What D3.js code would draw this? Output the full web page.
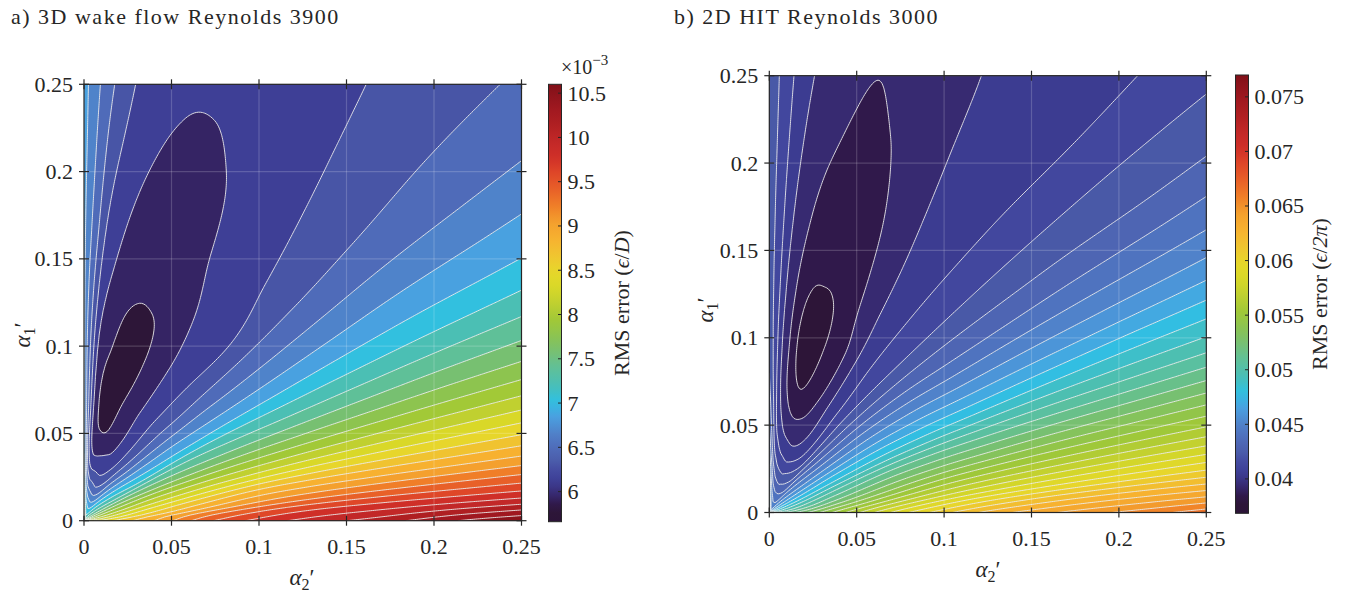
<!DOCTYPE html>
<meta charset="utf-8">
<style>
body { margin: 0; background: #fff; }
text { font-family: "Liberation Serif", "Times New Roman", serif; fill: #262626; }
</style>
<body>
<script src="https://d3js.org/d3.v7.min.js"></script>
<script>

// RMS error on a polar grid:
// rows = angle from the alpha2 axis (deg), columns = distance from origin
var radii = [0, 0.02, 0.04, 0.07, 0.1, 0.13, 0.17, 0.22, 0.28, 0.36];
var angles = [0, 3, 6, 10, 15, 20, 25, 30, 35, 40, 45, 50, 55, 60, 64, 68, 72, 76, 80, 83, 85.5, 87.5, 89, 90];

// a) 3D wake flow, values x1e-3
var rmsA = [
  [8.3, 8.65, 8.95, 9.45, 9.75, 9.95, 10.15, 10.45, 10.7, 11.0],
  [8.2, 8.55, 8.85, 9.25, 9.5, 9.65, 9.75, 9.83, 9.89, 9.95],
  [8.1, 8.4, 8.65, 8.95, 9.15, 9.25, 9.3, 9.32, 9.33, 9.35],
  [8.0, 8.25, 8.45, 8.65, 8.78, 8.8, 8.78, 8.75, 8.73, 8.72],
  [7.9, 8.05, 8.17, 8.25, 8.26, 8.24, 8.2, 8.16, 8.13, 8.1],
  [7.8, 7.88, 7.93, 7.9, 7.85, 7.8, 7.75, 7.71, 7.67, 7.64],
  [7.7, 7.7, 7.65, 7.57, 7.5, 7.44, 7.39, 7.35, 7.31, 7.28],
  [7.6, 7.5, 7.4, 7.3, 7.2, 7.13, 7.08, 7.04, 7.0, 6.97],
  [7.55, 7.3, 7.1, 6.98, 6.9, 6.85, 6.82, 6.8, 6.77, 6.75],
  [7.5, 7.15, 6.9, 6.75, 6.66, 6.62, 6.6, 6.59, 6.57, 6.55],
  [7.45, 7.0, 6.7, 6.53, 6.46, 6.42, 6.41, 6.42, 6.43, 6.42],
  [7.4, 6.85, 6.5, 6.34, 6.26, 6.22, 6.26, 6.29, 6.32, 6.33],
  [7.35, 6.7, 6.33, 6.2, 6.15, 6.13, 6.17, 6.205, 6.235, 6.255],
  [7.32, 6.55, 6.18, 6.08, 6.04, 6.05, 6.1, 6.135, 6.165, 6.2],
  [7.3, 6.47, 6.1, 6.0, 5.97, 5.98, 6.04, 6.085, 6.125, 6.17],
  [7.28, 6.42, 6.04, 5.93, 5.88, 5.9, 5.95, 6.03, 6.09, 6.15],
  [7.28, 6.4, 6.02, 5.84, 5.75, 5.86, 5.94, 6.0, 6.07, 6.13],
  [7.3, 6.45, 6.0, 5.7, 5.68, 5.85, 5.93, 6.005, 6.07, 6.12],
  [7.35, 6.5, 5.99, 5.75, 5.82, 5.9, 5.98, 6.06, 6.12, 6.18],
  [7.45, 6.55, 6.02, 5.85, 5.9, 5.98, 6.07, 6.16, 6.22, 6.27],
  [7.55, 6.68, 6.17, 6.05, 6.03, 6.1, 6.2, 6.3, 6.39, 6.43],
  [7.7, 6.85, 6.45, 6.35, 6.33, 6.37, 6.45, 6.51, 6.56, 6.58],
  [7.85, 7.05, 6.75, 6.62, 6.58, 6.6, 6.65, 6.69, 6.71, 6.72],
  [7.9, 7.2, 6.93, 6.85, 6.82, 6.81, 6.81, 6.83, 6.85, 6.86]
];

// b) 2D HIT, values x1e-3
var rmsB = [
  [50.0, 52.7, 55.3, 58.6, 61.0, 62.8, 64.3, 65.7, 67.3, 69.0],
  [49.5, 52.0, 54.4, 57.2, 59.2, 60.6, 61.8, 62.7, 63.35, 64.1],
  [49.0, 51.3, 53.4, 55.7, 57.3, 58.3, 59.1, 59.7, 60.15, 60.6],
  [48.6, 50.5, 52.2, 54.0, 55.2, 55.8, 56.2, 56.45, 56.6, 56.8],
  [48.2, 49.7, 51.0, 52.3, 52.9, 53.1, 53.2, 53.15, 53.1, 53.0],
  [47.8, 48.8, 49.8, 50.7, 50.9, 50.8, 50.6, 50.35, 50.14, 50.0],
  [47.4, 47.9, 48.4, 48.8, 48.75, 48.5, 48.25, 48.0, 47.75, 47.6],
  [47.0, 47.1, 47.3, 47.3, 47.0, 46.6, 46.25, 45.9, 45.6, 45.4],
  [46.6, 46.3, 46.1, 45.9, 45.5, 45.0, 44.6, 44.25, 43.95, 43.75],
  [46.3, 45.5, 45.0, 44.6, 44.1, 43.6, 43.2, 42.9, 42.6, 42.4],
  [46.0, 44.8, 43.9, 43.3, 42.8, 42.45, 42.15, 41.9, 41.7, 41.5],
  [45.8, 44.0, 42.7, 42.0, 41.6, 41.35, 41.15, 41.0, 40.85, 40.75],
  [45.6, 43.0, 41.4, 40.9, 40.8, 40.7, 40.62, 40.55, 40.45, 40.4],
  [45.5, 42.6, 40.6, 40.05, 39.9, 40.0, 40.05, 40.1, 40.15, 40.25],
  [45.5, 42.4, 40.2, 39.25, 39.0, 39.3, 39.6, 39.78, 39.88, 40.0],
  [45.6, 42.3, 39.95, 38.75, 38.6, 38.7, 38.95, 39.3, 39.6, 39.8],
  [45.8, 42.2, 39.9, 38.4, 37.9, 38.15, 38.5, 38.9, 39.3, 39.6],
  [46.1, 42.4, 40.1, 38.15, 36.95, 37.95, 38.35, 38.75, 39.05, 39.4],
  [46.4, 42.7, 40.4, 38.6, 37.8, 38.1, 38.6, 39.05, 39.35, 39.6],
  [46.9, 43.2, 40.9, 39.3, 38.85, 38.9, 39.2, 39.5, 39.75, 39.95],
  [47.4, 43.9, 41.5, 40.2, 39.8, 39.8, 39.95, 40.15, 40.35, 40.5],
  [48.0, 44.9, 42.6, 41.4, 41.0, 40.95, 41.0, 41.1, 41.2, 41.3],
  [48.5, 45.8, 43.5, 42.3, 41.9, 41.8, 41.8, 41.85, 41.9, 42.0],
  [48.8, 46.4, 44.2, 42.9, 42.4, 42.2, 42.15, 42.15, 42.2, 42.3]
];

var axisTicks = [0, 0.05, 0.1, 0.15, 0.2, 0.25];
var cbTicksA = [6, 6.5, 7, 7.5, 8, 8.5, 9, 9.5, 10, 10.5];
var cbTicksB = [40, 45, 50, 55, 60, 65, 70, 75];
var climA = [5.66, 10.6], climB = [36.85, 77.0];
var levelsA = d3.range(1, 27).map(function(k) { return 5.66 + k * 0.183; });
var levelsB = d3.range(1, 32).map(function(k) { return 37.07 + k * 0.933; });

// colour map, sampled from the filled bands and colour bars
var cmapPos = [0, 0.02, 0.04, 0.06, 0.09, 0.115, 0.135, 0.165, 0.2, 0.24, 0.275, 0.31, 0.35, 0.39,
  0.425, 0.46, 0.5, 0.535, 0.57, 0.61, 0.645, 0.685, 0.72, 0.76, 0.795, 0.83, 0.87, 0.905, 0.945, 1];
var cmapCol = ["#2c1438", "#2d1638", "#30194a", "#36276c", "#3d3e95", "#4349a0", "#4a5aa8", "#4f6ab8",
  "#5080c8", "#4aa0e0", "#30c0e2", "#48bfb8", "#5ec09a", "#78c070", "#8cc450", "#a0c838", "#c0d030",
  "#d8d828", "#e6d82a", "#f0c430", "#f7b230", "#f4a02e", "#f08028", "#e86028", "#e04828", "#d03028",
  "#c22828", "#b02022", "#a01820", "#801018"];
var cmap = d3.scaleLinear().domain(cmapPos).range(cmapCol).clamp(true);

var W = 1349, H = 594;
var svg = d3.select("body").append("svg").attr("width", W).attr("height", H);

// cubic Hermite through the nodes with centred (Catmull-Rom) slopes
function spline(xs, ys) {
  var n = xs.length, m = [];
  for (var i = 0; i < n; i++) {
    var a = Math.max(0, i - 1), b = Math.min(n - 1, i + 1);
    m[i] = (ys[b] - ys[a]) / (xs[b] - xs[a]);
  }
  return function(x) {
    var k = Math.max(0, Math.min(n - 2, d3.bisectRight(xs, x) - 1));
    var h = xs[k + 1] - xs[k];
    var t = (x - xs[k]) / h, t2 = t * t, t3 = t2 * t;
    return (2 * t3 - 3 * t2 + 1) * ys[k] + (t3 - 2 * t2 + t) * h * m[k] +
      (-2 * t3 + 3 * t2) * ys[k + 1] + (t3 - t2) * h * m[k + 1];
  };
}

function drawPanel(p) {
  var x = d3.scaleLinear().domain([0, 0.25]).range([p.left, p.left + p.w]);
  var y = d3.scaleLinear().domain([0, 0.25]).range([p.top + p.h, p.top]);
  var clim = p.clim;
  var norm = function(v) { return (v - clim[0]) / (clim[1] - clim[0]); };

  // sample the polar table on a fine cartesian grid
  var n = 230, step = 0.25 / (n - 1);
  var rows = p.rms.map(function(r) { return spline(radii, r); });
  var values = new Float64Array(n * n);
  for (var j = 0; j < n; j++) {
    for (var i = 0; i < n; i++) {
      var a2 = i * step, a1 = j * step;
      var r = Math.hypot(a1, a2);
      var th = r === 0 ? 45 : Math.atan2(a1, a2) * 180 / Math.PI;
      var col = rows.map(function(f) { return f(r); });
      values[j * n + i] = spline(angles, col)(th);
    }
  }

  var proj = d3.geoTransform({ point: function(px, py) {
    this.stream.point(x((px - 0.5) * step), y((py - 0.5) * step));
  }});
  var path = d3.geoPath(proj);
  var contours = d3.contours().size([n, n]).thresholds(p.levels)(values);

  var clipId = "clip" + p.id;
  svg.append("clipPath").attr("id", clipId).append("rect")
    .attr("x", p.left).attr("y", p.top).attr("width", p.w).attr("height", p.h);
  var g = svg.append("g").attr("clip-path", "url(#" + clipId + ")");

  var bandColor = function(k) {
    var lo = k === 0 ? clim[0] : p.levels[k - 1];
    var hi = k < p.levels.length ? p.levels[k] : lo + (p.levels[1] - p.levels[0]);
    return cmap(norm((lo + hi) / 2));
  };
  g.append("rect").attr("x", p.left).attr("y", p.top).attr("width", p.w).attr("height", p.h)
    .attr("fill", bandColor(0));
  g.selectAll("path.band").data(contours).enter().append("path")
    .attr("class", "band").attr("d", path)
    .attr("fill", function(d, k) { return bandColor(k + 1); });
  g.selectAll("path.iso").data(contours).enter().append("path")
    .attr("class", "iso").attr("d", path)
    .attr("fill", "none").attr("stroke", "#ececec").attr("stroke-width", 0.9);

  // faint grid
  g.selectAll("line.gx").data(axisTicks).enter().append("line")
    .attr("x1", function(d) { return x(d); }).attr("x2", function(d) { return x(d); })
    .attr("y1", p.top).attr("y2", p.top + p.h)
    .attr("stroke", "#fff").attr("stroke-opacity", 0.18).attr("stroke-width", 1.2);
  g.selectAll("line.gy").data(axisTicks).enter().append("line")
    .attr("y1", function(d) { return y(d); }).attr("y2", function(d) { return y(d); })
    .attr("x1", p.left).attr("x2", p.left + p.w)
    .attr("stroke", "#fff").attr("stroke-opacity", 0.18).attr("stroke-width", 1.2);

  // frame and ticks on all four sides, crossing the frame
  svg.append("rect").attr("x", p.left).attr("y", p.top).attr("width", p.w).attr("height", p.h)
    .attr("fill", "none").attr("stroke", "#262626").attr("stroke-width", 1.2);
  var tk = svg.append("g").attr("stroke", "#262626").attr("stroke-width", 1.2);
  axisTicks.forEach(function(d) {
    [p.top, p.top + p.h].forEach(function(yy) {
      tk.append("line").attr("x1", x(d)).attr("x2", x(d)).attr("y1", yy - 5).attr("y2", yy + 5);
    });
    [p.left, p.left + p.w].forEach(function(xx) {
      tk.append("line").attr("y1", y(d)).attr("y2", y(d)).attr("x1", xx - 5).attr("x2", xx + 5);
    });
  });

  var fmt = function(d) { return String(d); };
  svg.append("g").selectAll("text").data(axisTicks).enter().append("text")
    .attr("x", function(d) { return x(d); }).attr("y", p.top + p.h + 33)
    .attr("text-anchor", "middle").attr("font-size", 22).text(fmt);
  svg.append("g").selectAll("text").data(axisTicks).enter().append("text")
    .attr("x", p.left - 11).attr("y", function(d) { return y(d) + 7.5; })
    .attr("text-anchor", "end").attr("font-size", 22).text(fmt);

  // axis labels
  var xl = svg.append("text").attr("x", p.xlab[0]).attr("y", p.xlab[1])
    .attr("text-anchor", "middle").attr("font-size", 23);
  xl.append("tspan").attr("font-style", "italic").text("α");
  xl.append("tspan").attr("font-size", 16).attr("dy", 5).text("2");
  xl.append("tspan").attr("dy", -5).text("′");
  var yl = svg.append("text").attr("transform", "translate(" + p.ylab[0] + "," + p.ylab[1] + ") rotate(-90)")
    .attr("text-anchor", "middle").attr("font-size", 23);
  yl.append("tspan").attr("font-style", "italic").text("α");
  yl.append("tspan").attr("font-size", 16).attr("dy", 5).text("1");
  yl.append("tspan").attr("dy", -5).text("′");

  // title
  svg.append("text").attr("x", p.title[0]).attr("y", p.title[1])
    .attr("font-size", 22).attr("letter-spacing", 1.5).text(p.titleText);

  // colour bar
  var cb = p.cb;
  var cy = d3.scaleLinear().domain(clim).range([cb.top + cb.h, cb.top]);
  var gradId = "grad" + p.id;
  var grad = svg.append("defs").append("linearGradient").attr("id", gradId)
    .attr("x1", 0).attr("y1", 1).attr("x2", 0).attr("y2", 0);
  d3.range(0, 1.0001, 0.02).forEach(function(t) {
    grad.append("stop").attr("offset", t).attr("stop-color", cmap(t));
  });
  svg.append("rect").attr("x", cb.left).attr("y", cb.top).attr("width", cb.w).attr("height", cb.h)
    .attr("fill", "url(#" + gradId + ")").attr("stroke", "#262626").attr("stroke-width", 1);
  svg.append("g").selectAll("line").data(p.cbTicks).enter().append("line")
    .attr("x1", cb.left + cb.w - 3.5).attr("x2", cb.left + cb.w)
    .attr("y1", function(d) { return cy(d); }).attr("y2", function(d) { return cy(d); })
    .attr("stroke", "#262626").attr("stroke-width", 1);
  svg.append("g").selectAll("text").data(p.cbTicks).enter().append("text")
    .attr("x", cb.left + cb.w + 6).attr("y", function(d) { return cy(d) + 7.5; })
    .attr("font-size", 22).text(p.cbFmt);

  var cl = svg.append("text")
    .attr("transform", "translate(" + p.cbLab[0] + "," + p.cbLab[1] + ") rotate(-90)")
    .attr("text-anchor", "middle").attr("font-size", 22);
  cl.append("tspan").text("RMS error  (");
  cl.append("tspan").attr("font-style", "italic").text("ϵ");
  cl.append("tspan").text("/");
  cl.append("tspan").attr("font-style", "italic").text(p.cbDen);
  cl.append("tspan").text(")");
}

drawPanel({
  id: "A", left: 84, top: 84.3, w: 437.5, h: 436.4,
  rms: rmsA, clim: climA, levels: levelsA,
  xlab: [302, 585], ylab: [30, 335], title: [11, 24], titleText: "a) 3D wake flow Reynolds 3900",
  cb: { left: 548.5, top: 84.3, w: 13, h: 437.4 },
  cbTicks: cbTicksA, cbFmt: function(d) { return String(d); },
  cbLab: [629, 303], cbDen: "D"
});
drawPanel({
  id: "B", left: 769.3, top: 75.7, w: 437, h: 436.8,
  rms: rmsB, clim: climB, levels: levelsB,
  xlab: [988, 577], ylab: [713, 310], title: [674, 24], titleText: "b) 2D HIT Reynolds 3000",
  cb: { left: 1235.5, top: 75, w: 13, h: 438.3 },
  cbTicks: cbTicksB, cbFmt: function(d) { return String(d / 1000); },
  cbLab: [1327, 294], cbDen: "2π"
});

// exponent above the first colour bar
var ex = svg.append("text").attr("x", 561).attr("y", 74).attr("font-size", 20);
ex.append("tspan").text("×10");
ex.append("tspan").attr("font-size", 15).attr("dy", -9).text("−3");

</script>
</body>
